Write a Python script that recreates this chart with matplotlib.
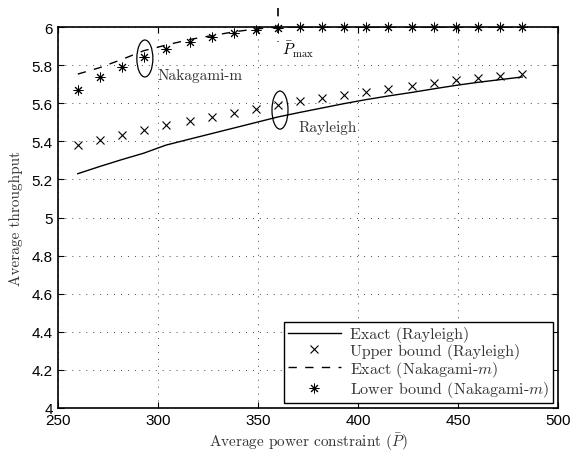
import matplotlib
matplotlib.use("Agg")
import matplotlib.pyplot as plt
from matplotlib.patches import Ellipse

plt.rcParams["mathtext.fontset"] = "cm"
plt.rcParams["axes.unicode_minus"] = False

# average power constraint values (x)
power = [260, 271, 282, 293, 304, 316, 327, 338, 349, 360, 371,
         382, 393, 404, 415, 427, 438, 449, 460, 471, 482]

# Rayleigh: exact curve and upper bound markers
exact_rayleigh = [5.230, 5.268, 5.304, 5.338, 5.380, 5.412, 5.441, 5.470, 5.499, 5.528, 5.552,
                  5.575, 5.598, 5.619, 5.638, 5.657, 5.676, 5.694, 5.710, 5.724, 5.738]
upper_rayleigh = [5.381, 5.407, 5.433, 5.459, 5.486, 5.507, 5.528, 5.549, 5.570, 5.591, 5.612,
                  5.627, 5.643, 5.659, 5.675, 5.690, 5.706, 5.722, 5.732, 5.743, 5.753]

# Nakagami-m: exact curve and lower bound markers
exact_nakagami = [5.753, 5.787, 5.830, 5.876, 5.905, 5.935, 5.955, 5.975, 5.990, 6.0, 6.0,
                  6.0, 6.0, 6.0, 6.0, 6.0, 6.0, 6.0, 6.0, 6.0, 6.0]
lower_nakagami = [5.669, 5.738, 5.790, 5.843, 5.885, 5.920, 5.948, 5.969, 5.984, 5.995, 6.0,
                  6.0, 6.0, 6.0, 6.0, 6.0, 6.0, 6.0, 6.0, 6.0, 6.0]

p_max = 360

serif = "cmr10"
sans = "Liberation Sans"

fig = plt.figure(figsize=(5.72, 4.6), dpi=100)
ax = fig.add_axes([0.101, 0.111, 0.875, 0.828])

asterisk = (8, 2, 0)

ax.plot(power, exact_rayleigh, "k-", lw=1.0, label="Exact (Rayleigh)")
ax.plot(power, upper_rayleigh, "kx", ms=5.5, mew=0.8, ls="none",
        label="Upper bound (Rayleigh)")
ax.plot(power, exact_nakagami, "k", ls=(0, (6, 6)), lw=1.0,
        label=r"Exact (Nakagami-$m$)")
ax.plot(power, lower_nakagami, "k", marker=asterisk, ms=7, mew=0.7, ls="none",
        clip_on=False, label=r"Lower bound (Nakagami-$m$)")

# P_max marker
ax.plot([p_max, p_max], [6.1, 5.92], "k", ls=(0, (5, 5)), lw=1.2, clip_on=False)
ax.text(p_max + 2, 5.885, r"$\bar{P}_{\max}$", fontsize=11, va="center", ha="left")

# ellipses and annotations
ax.add_patch(Ellipse((293.5, 5.835), 8, 0.194, fill=False, ec="k", lw=0.9))
ax.text(300, 5.75, "Nakagami-m", family=serif, fontsize=11, color="#333333",
        va="center", ha="left")
ax.add_patch(Ellipse((361, 5.564), 8, 0.2, fill=False, ec="k", lw=0.9))
ax.text(370, 5.475, "Rayleigh", family=serif, fontsize=11, color="#333333",
        va="center", ha="left")

ax.set_xlim(250, 500)
ax.set_ylim(4, 6)
ax.set_xticks([250, 300, 350, 400, 450, 500])
ax.set_yticks([4, 4.2, 4.4, 4.6, 4.8, 5, 5.2, 5.4, 5.6, 5.8, 6])
ax.set_yticklabels(["4", "4.2", "4.4", "4.6", "4.8", "5", "5.2", "5.4", "5.6", "5.8", "6"])
ax.tick_params(direction="in", top=True, right=True, length=4, width=0.8,
               labelsize=11)
for lab in ax.get_xticklabels() + ax.get_yticklabels():
    lab.set_family(sans)
for s in ax.spines.values():
    s.set_linewidth(1.2)

ax.grid(True, color="k", ls=(0, (1.4, 8.6)), lw=0.5)

ax.set_xlabel(r"Average power constraint ($\bar{P}$)", family=serif, fontsize=11,
              color="#333333", labelpad=3)
ax.set_ylabel("Average throughput", family=serif, fontsize=11, color="#333333",
              labelpad=6)

leg = ax.legend(loc="lower right", prop={"family": serif, "size": 11.5},
                fancybox=False, edgecolor="k", framealpha=1,
                borderpad=0.25, labelspacing=0.02, handlelength=3.3,
                handletextpad=0.6, borderaxespad=0.3)
leg.get_frame().set_linewidth(1.0)
for t in leg.get_texts():
    t.set_color("#333333")

fig.savefig("out.png", dpi=100)
